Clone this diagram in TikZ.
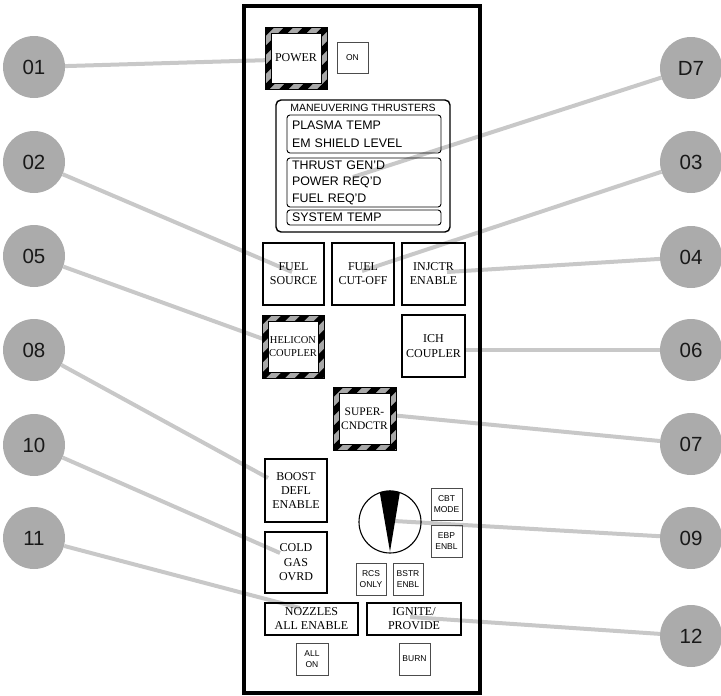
\documentclass[tikz,border=0pt]{standalone}
\usepackage{fontspec}
\setmainfont{Liberation Serif}
\setsansfont{Liberation Sans}
\usetikzlibrary{calc}
\definecolor{circfill}{HTML}{ABABAB}
\definecolor{leadcol}{HTML}{C8C8C8}
\definecolor{hazgray}{HTML}{A8A8A8}
\begin{document}
\begin{tikzpicture}[x=1pt,y=-1pt,
  lbl/.style={circle, fill=circfill, minimum size=62pt, inner sep=0pt,
    font=\sffamily\fontsize{20.5}{22}\selectfont, text=black!90},
  leader/.style={leadcol, line width=4pt},
  btn/.style={draw, line width=1.5pt, inner sep=0pt, align=center,
    font=\fontsize{12}{14}\selectfont},
  sbtn/.style={draw=black!70, line width=0.8pt, inner sep=0pt, align=center,
    font=\sffamily\fontsize{8.5}{10.5}\selectfont},
  haz/.style={draw, line width=0.8pt, inner sep=0pt, align=center,
    path picture={
      \fill[hazgray] (path picture bounding box.south west) rectangle (path picture bounding box.north east);
      \foreach \k in {-5,...,5}{
        \draw[black, line width=6.5pt] ($(path picture bounding box.center)+(\k*19pt-50pt,-50pt)$) -- ++(100pt,100pt);
      }
      \draw[fill=white, line width=0.8pt] ($(path picture bounding box.south west)+(6pt,6pt)$) rectangle ($(path picture bounding box.north east)+(-6pt,-6pt)$);
    }},
  mtbox/.style={draw, line width=0.9pt, rounded corners=3pt, inner sep=0pt, align=left,
    text width=144pt, minimum width=154pt, font=\sffamily\fontsize{12.4}{18}\selectfont}
]
\useasboundingbox (0,0) rectangle (721,696);

% label circles
\node[lbl] (c01) at (34,67) {01};
\node[lbl] (c02) at (34,162) {02};
\node[lbl] (c05) at (34,256) {05};
\node[lbl] (c08) at (34,350) {08};
\node[lbl] (c10) at (34,445) {10};
\node[lbl] (c11) at (34,538) {11};
\node[lbl] (cD7) at (691,68) {D7};
\node[lbl] (c03) at (691,162) {03};
\node[lbl] (c04) at (691,257) {04};
\node[lbl] (c06) at (691,350) {06};
\node[lbl] (c07) at (691,444) {07};
\node[lbl] (c09) at (691,538) {09};
\node[lbl] (c12) at (691,636) {12};

% leader end points
\coordinate (t01) at (272,60);
\coordinate (t02) at (292,272);
\coordinate (t05) at (266,340);
\coordinate (t08) at (268,478);
\coordinate (t10) at (280,553);
\coordinate (t11) at (300,608);
\coordinate (tD7) at (353,177);
\coordinate (t03) at (362,271);
\coordinate (t04) at (447,272);
\coordinate (t06) at (465,350);
\coordinate (t07) at (390,415);
\coordinate (t09) at (394,521);
\coordinate (t12) at (410,617);

\foreach \n in {01,02,05,08,10,11,D7,03,04,06,07,09,12}{
  \draw[leader] (c\n) -- (t\n);
}

% panel
\node[draw, line width=3.2pt, minimum width=236pt, minimum height=687pt, inner sep=0pt] (panel) at (362,349.5) {};

% power
\node[haz, minimum width=62pt, minimum height=62pt, font=\fontsize{12}{14}\selectfont] (power) at (296,58) {POWER};
\node[sbtn, minimum width=31pt, minimum height=31pt] (on) at (352.5,57.5) {ON};

% maneuvering thrusters
\node[draw, line width=1.4pt, rounded corners=5pt, minimum width=174pt, minimum height=132pt, inner sep=0pt] (mt) at (363,166) {};
\node[font=\sffamily\fontsize{10.5}{12}\selectfont, inner sep=0pt] (mttitle) at (363,108) {MANEUVERING THRUSTERS};
\node[mtbox, minimum height=38pt] (mt1) at (364,134) {PLASMA TEMP\\EM SHIELD LEVEL};
\node[mtbox, minimum height=49pt, font=\sffamily\fontsize{12.4}{16.5}\selectfont] (mt2) at (364,182.5) {THRUST GEN'D\\POWER REQ'D\\FUEL REQ'D};
\node[mtbox, minimum height=15pt] (mt3) at (364,217.5) {SYSTEM TEMP};

% row 1
\node[btn, minimum width=61pt, minimum height=62pt] (fsrc) at (293.5,274) {FUEL\\SOURCE};
\node[btn, minimum width=62pt, minimum height=62pt] (fcut) at (363,274) {FUEL\\CUT-OFF};
\node[btn, minimum width=63pt, minimum height=62pt] (injc) at (433.5,274) {INJCTR\\ENABLE};

% row 2
\node[haz, minimum width=62pt, minimum height=63pt, font=\fontsize{10.5}{13}\selectfont] (heli) at (293,346.5) {HELICON\\COUPLER};
\node[btn, minimum width=63pt, minimum height=62pt, font=\fontsize{12}{15}\selectfont] (ich) at (433.5,346) {ICH\\COUPLER};

% superconductor
\node[haz, minimum width=63pt, minimum height=63pt, font=\fontsize{11.5}{14}\selectfont] (supr) at (364.5,418.5) {SUPER-\\CNDCTR};

% lower left
\node[btn, minimum width=62pt, minimum height=63pt] (boost) at (296,490.5) {BOOST\\DEFL\\ENABLE};
\node[btn, minimum width=62pt, minimum height=61pt, font=\fontsize{12}{14.5}\selectfont] (cold) at (296,562.5) {COLD\\GAS\\OVRD};

% dial
\node[circle, draw, line width=1.1pt, minimum size=62pt, inner sep=0pt] (dial) at (390,522) {};
\coordinate (apex) at ($(dial.south)+(0pt,2pt)$);
\fill[black] (dial.109) arc[start angle=109, end angle=71, radius=31pt] -- (apex) -- cycle;

% small buttons
\node[sbtn, minimum width=31pt, minimum height=32pt] (cbt) at (446.5,504) {CBT\\MODE};
\node[sbtn, minimum width=31pt, minimum height=32pt] (ebp) at (446.5,541) {EBP\\ENBL};
\node[sbtn, minimum width=30pt, minimum height=32pt] (rcs) at (371,579) {RCS\\ONLY};
\node[sbtn, minimum width=30pt, minimum height=32pt] (bstr) at (408,579) {BSTR\\ENBL};

% bottom row
\node[btn, minimum width=93pt, minimum height=32pt] (nozz) at (311.5,619) {NOZZLES\\ALL ENABLE};
\node[btn, minimum width=94pt, minimum height=32pt] (ign) at (414,619) {IGNITE/\\PROVIDE};
\node[sbtn, minimum width=32pt, minimum height=32pt] (allon) at (312,659) {ALL\\ON};
\node[sbtn, minimum width=31pt, minimum height=32pt] (burn) at (414.5,659) {BURN};
\end{tikzpicture}
\end{document}
